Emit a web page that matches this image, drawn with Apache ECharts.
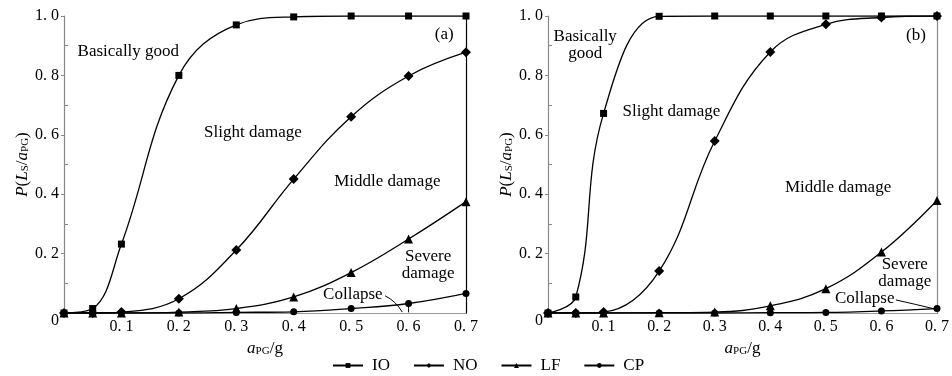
<!DOCTYPE html>
<html><head><meta charset="utf-8">
<script src="https://cdn.jsdelivr.net/npm/echarts@6/dist/echarts.min.js"></script>
<style>html,body{margin:0;padding:0;background:#fff}#c{width:952px;height:376px}</style>
</head><body><div id="c"></div>
<script>
// ---- data ----
const xValues = [0, 0.05, 0.1, 0.2, 0.3, 0.4, 0.5, 0.6, 0.7];
// panel (a)
const ioA = [0, 0.015, 0.232, 0.80, 0.97, 0.997, 1.0, 1.0, 1.0];
const noA = [0, 0, 0.003, 0.048, 0.212, 0.451, 0.661, 0.798, 0.878];
const lfA = [0, 0, 0, 0.003, 0.015, 0.054, 0.136, 0.249, 0.375];
const cpA = [0, 0, 0, 0, 0.002, 0.004, 0.015, 0.032, 0.066];
// panel (b)
const ioB = [0, 0.054, 0.672, 0.999, 1.0, 1.0, 1.0, 1.0, 1.0];
const noB = [0, 0, 0.003, 0.141, 0.579, 0.879, 0.972, 0.995, 1.0];
const lfB = [0, 0, 0, 0.001, 0.003, 0.024, 0.082, 0.205, 0.379];
const cpB = [0, 0, 0, 0, 0, 0.001, 0.002, 0.007, 0.015];

const seriesNames = ['IO', 'NO', 'LF', 'CP'];
const xTickLabels = ['', '0. 1', '0. 2', '0. 3', '0. 4', '0. 5', '0. 6', '0. 7'];
const yTickLabels = ['0', '0. 2', '0. 4', '0. 6', '0. 8', '1. 0'];
const minorTickValues = [0.1, 0.3, 0.5, 0.7, 0.9];

// annotations in data coordinates
const annotationsA = [
  { text: 'Basically good', x: 0.112, y: 0.882 },
  { text: 'Slight damage', x: 0.329, y: 0.606 },
  { text: 'Middle damage', x: 0.563, y: 0.444 },
  { text: 'Severe\ndamage', x: 0.634, y: 0.162 },
  { text: 'Collapse', x: 0.503, y: 0.061 },
  { text: '(a)', x: 0.662, y: 0.936 }
];
const annotationsB = [
  { text: 'Basically\ngood', x: 0.067, y: 0.901 },
  { text: 'Slight damage', x: 0.222, y: 0.679 },
  { text: 'Middle damage', x: 0.522, y: 0.423 },
  { text: 'Severe\ndamage', x: 0.642, y: 0.134 },
  { text: 'Collapse', x: 0.570, y: 0.049 },
  { text: '(b)', x: 0.662, y: 0.935 }
];
const leadersA = [
  [[0.559, 0.058], [0.578, 0.040], [0.589, 0.003]],
  [[0.6, 0.030], [0.6, 0.030], [0.6, 0.002]]
];
const leadersB = [
  [[0.626, 0.044], [0.66, 0.030], [0.697, 0.013]]
];

// ---- chart ----
const FONT = '"Liberation Serif", "Times New Roman", serif';
const chart = echarts.init(document.getElementById('c'), null, { renderer: 'canvas' });

const nameRich = {
  i: { fontFamily: FONT, fontStyle: 'italic', fontSize: 17, color: '#000' },
  n: { fontFamily: FONT, fontSize: 17, color: '#000' },
  s: { fontFamily: FONT, fontSize: 11, color: '#000', verticalAlign: 'bottom', lineHeight: 6 }
};

function xAxes(gridIndex) {
  return [
    {
      gridIndex, type: 'value', min: 0, max: 0.7, interval: 0.1, position: 'bottom',
      axisLine: { lineStyle: { color: '#000', width: 1.2 } },
      axisTick: { show: false }, splitLine: { show: false },
      axisLabel: { fontFamily: FONT, fontSize: 16, color: '#000', margin: 6,
        formatter: v => xTickLabels[Math.round(v * 10)] },
      name: '{i|a}{s|PG}{n|/g}', nameLocation: 'middle', nameGap: 27,
      nameTextStyle: { rich: nameRich }
    },
    {
      gridIndex, type: 'value', min: 0, max: 0.7, position: 'top',
      axisLine: { lineStyle: { color: '#999', width: 1.2 } },
      axisTick: { show: false }, axisLabel: { show: false }, splitLine: { show: false }
    }
  ];
}
function yAxes(gridIndex, rightColor) {
  return [
    {
      gridIndex, type: 'value', min: 0, max: 1, interval: 0.2, position: 'left',
      axisLine: { show: true, lineStyle: { color: '#888', width: 1.2 } },
      axisTick: { show: true, inside: false, length: 3, lineStyle: { color: '#888' } },
      splitLine: { show: false },
      axisLabel: { fontFamily: FONT, fontSize: 16, color: '#000', margin: 5,
        formatter: v => { const k = Math.round(v * 5); return k === 0 ? '{z|0}' : yTickLabels[k]; },
        rich: { z: { fontFamily: FONT, fontSize: 16, color: '#000', padding: [15, 0, 0, 0] } } },
      name: '{i|P}{n|(}{i|L}{s|S}{n|/}{i|a}{s|PG}{n|)}', nameLocation: 'middle', nameGap: 30, nameRotate: 90,
      nameTextStyle: { rich: nameRich }
    },
    {
      gridIndex, type: 'value', min: 0, max: 1, position: 'left',
      axisLine: { show: false },
      axisTick: { show: true, inside: true, length: 4, customValues: minorTickValues, lineStyle: { color: '#888' } },
      axisLabel: { show: false }, splitLine: { show: false }
    },
    {
      gridIndex, type: 'value', min: 0, max: 1, position: 'right',
      axisLine: { show: true, lineStyle: { color: rightColor, width: 1.2 } },
      axisTick: { show: false }, axisLabel: { show: false }, splitLine: { show: false }
    }
  ];
}

const symbols = ['rect', 'diamond', 'triangle', 'circle'];
const symbolSizes = [7, 10, 9, 7];
function makeSeries(arrs, xi, yi) {
  return arrs.map((arr, k) => ({
    name: seriesNames[k], type: 'line', xAxisIndex: xi, yAxisIndex: yi,
    data: xValues.map((x, j) => [x, arr[j]]),
    smooth: 0.4,
    symbol: symbols[k], symbolSize: symbolSizes[k], showSymbol: true,
    lineStyle: { color: '#000', width: 1.3 }, itemStyle: { color: '#000' },
    emphasis: { disabled: true }, animation: false
  }));
}

const option = {
  animation: false,
  backgroundColor: '#fff',
  grid: [
    { left: 64, top: 16, width: 402, height: 297 },
    { left: 548, top: 16, width: 399, height: 297 }
  ],
  xAxis: [...xAxes(0), ...xAxes(1)],
  yAxis: [...yAxes(0, '#000'), ...yAxes(1, '#888')],
  legend: {
    data: seriesNames, left: 327, top: 352, itemWidth: 30, itemHeight: 6, itemGap: 23,
    textStyle: { fontFamily: FONT, fontSize: 17, color: '#000', padding: [0, 0, 0, 4] }
  },
  series: [
    ...makeSeries([ioA, noA, lfA, cpA], 0, 0),
    ...makeSeries([ioB, noB, lfB, cpB], 2, 3)
  ]
};
chart.setOption(option);

function buildGraphics(anns, leaders, xi, yi) {
  const g = [];
  anns.forEach(a => {
    const p = chart.convertToPixel({ xAxisIndex: xi, yAxisIndex: yi }, [a.x, a.y]);
    g.push({ type: 'text', x: p[0], y: p[1], silent: true,
      style: { text: a.text, fontFamily: FONT, fontSize: 17, fill: '#000',
        align: 'center', verticalAlign: 'middle', lineHeight: 17 } });
  });
  leaders.forEach(l => {
    const p = l.map(q => chart.convertToPixel({ xAxisIndex: xi, yAxisIndex: yi }, q));
    g.push({ type: 'bezierCurve', silent: true,
      shape: { x1: p[0][0], y1: p[0][1], cpx1: p[1][0], cpy1: p[1][1], x2: p[2][0], y2: p[2][1] },
      style: { stroke: '#000', lineWidth: 1, fill: null } });
  });
  return g;
}
chart.setOption({ graphic: [...buildGraphics(annotationsA, leadersA, 0, 0), ...buildGraphics(annotationsB, leadersB, 2, 3)] });
</script>
</body></html>
